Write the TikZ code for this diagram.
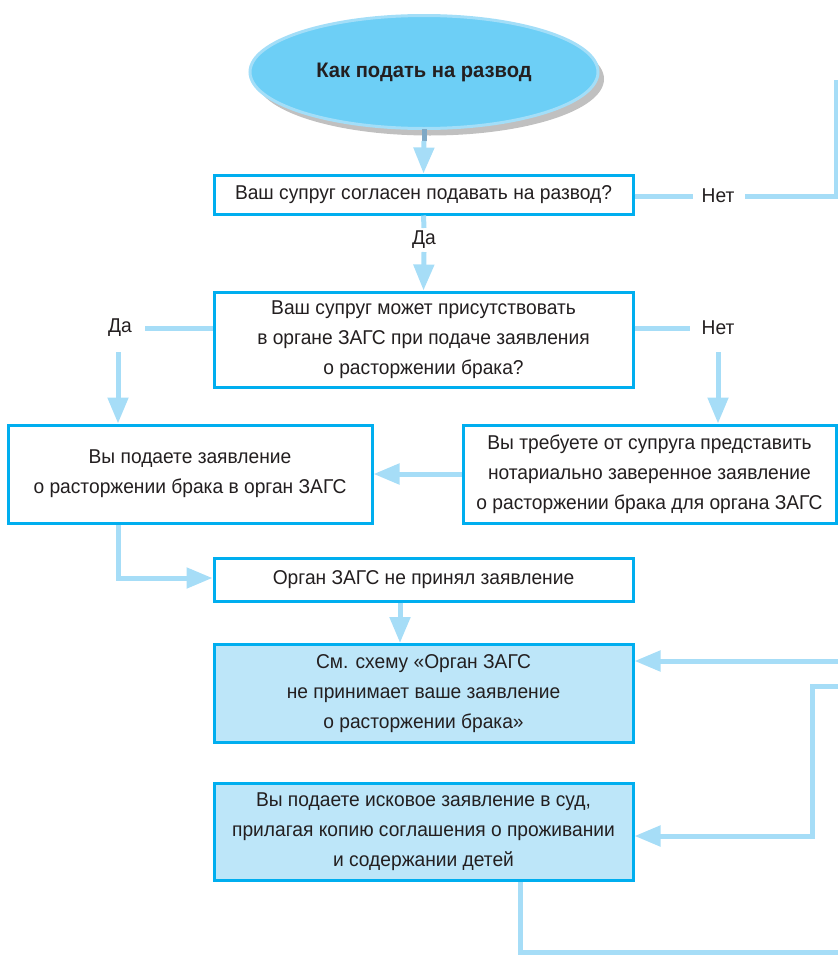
\documentclass[tikz,border=0pt]{standalone}
\usepackage{fontspec}
\setmainfont[FakeStretch=0.96]{Liberation Sans}
\usetikzlibrary{arrows.meta,shapes.geometric,shadows}
\definecolor{boxline}{HTML}{00AEEF}
\definecolor{arrowc}{HTML}{A6DDF7}
\definecolor{ellfill}{HTML}{6DCFF6}
\definecolor{ellline}{HTML}{A3DEF8}
\definecolor{boxfill}{HTML}{BDE6F9}
\definecolor{txt}{HTML}{231F20}
\definecolor{stubc}{HTML}{7FA9C6}
\tikzset{
  x=1pt,y=-1pt,
  every node/.style={text=txt,font=\fontsize{20}{30}\selectfont},
  flowbox/.style={draw=boxline,line width=3pt,fill=white,align=center,inner sep=0pt},
  fillbox/.style={flowbox,fill=boxfill},
  conn/.style={draw=arrowc,line width=5pt},
  arr/.style={conn,-{Triangle[width=20pt,length=26pt]}},
  lbl/.style={inner sep=0pt}
}
\begin{document}
\begin{tikzpicture}
\useasboundingbox (0,0) rectangle (838,956);
% ellipse
\node[ellipse,draw=ellline,line width=3pt,fill=ellfill,minimum width=348pt,minimum height=113pt,
  drop shadow={shadow xshift=6pt,shadow yshift=-7pt,fill=black!45,opacity=0.55},
  font=\fontsize{21}{26}\selectfont\bfseries] (start) at (424,72) {Как подать на развод};
\node[flowbox,minimum width=419pt,minimum height=39pt] (b1) at (423.5,194.5) {Ваш супруг согласен подавать на развод?};
\node[flowbox,minimum width=419pt,minimum height=95pt] (b2) at (423.5,339.5) {Ваш супруг может присутствовать\\в органе ЗАГС при подаче заявления\\о расторжении брака?};
\node[flowbox,minimum width=364pt,minimum height=98pt] (b3) at (190,474) {Вы подаете заявление\\о расторжении брака в орган ЗАГС};
\node[flowbox,minimum width=373pt,minimum height=98pt] (b4) at (649.5,474) {Вы требуете от супруга представить\\нотариально заверенное заявление\\о расторжении брака для органа ЗАГС};
\node[flowbox,minimum width=419pt,minimum height=43pt] (b5) at (423.5,579.5) {Орган ЗАГС не принял заявление};
\node[fillbox,minimum width=419pt,minimum height=98pt] (b6) at (423.5,693.5) {См. схему «Орган ЗАГС\\не принимает ваше заявление\\о расторжении брака»};
\node[fillbox,minimum width=419pt,minimum height=97pt] (b7) at (423.5,832) {Вы подаете исковое заявление в суд,\\прилагая копию соглашения о проживании\\и содержании детей};
% labels
\node[lbl] (net1) at (718,196) {Нет};
\node[lbl] (da1) at (424,240) {Да};
\node[lbl] (da2) at (120,328) {Да};
\node[lbl] (net2) at (718,328) {Нет};
% coordinates
\coordinate (s0) at (424,129);
\coordinate (s1) at (424,141);
\coordinate (n1a) at (693,196);
\coordinate (n1b) at (745,196);
\coordinate (r1) at (836,196);
\coordinate (r1t) at (836,80);
\coordinate (d1a) at (424,228);
\coordinate (d1b) at (424,252);
\coordinate (d2a) at (145,328);
\coordinate (d2b) at (118,352);
\coordinate (n2a) at (690,328);
\coordinate (n2b) at (718,352);
\coordinate (e1) at (838,661);
\coordinate (e2) at (838,686);
\coordinate (k2) at (812,686);
\coordinate (k3) at (812,836);
\coordinate (k4) at (118,578);
\coordinate (k5) at (520,952);
\coordinate (k6) at (838,952);
\coordinate (m5) at (400,0);
% connectors
\draw[draw=stubc,line width=5pt] (s0) -- (s1);
\draw[arr] (s1) -- (b1.north);
\draw[conn] (b1.east |- n1a) -- (n1a);
\draw[conn] (n1b) -- (r1) -- (r1t);
\draw[conn] (b1.south) -- (d1a);
\draw[arr] (d1b) -- (b2.north);
\draw[conn] (b2.west |- d2a) -- (d2a);
\draw[arr] (d2b) -- (b3.north -| d2b);
\draw[conn] (b2.east |- n2a) -- (n2a);
\draw[arr] (n2b) -- (b4.north -| n2b);
\draw[arr] (b4.west) -- (b3.east);
\draw[arr] (b3.south -| k4) -- (k4) -- (b5.west |- k4);
\draw[arr] (b5.south -| m5) -- (b6.north -| m5);
\draw[arr] (e1) -- (b6.east |- e1);
\draw[arr] (e2) -- (k2) -- (k3) -- (b7.east |- k3);
\draw[conn] (b7.south -| k5) -- (k5) -- (k6);
\end{tikzpicture}
\end{document}
